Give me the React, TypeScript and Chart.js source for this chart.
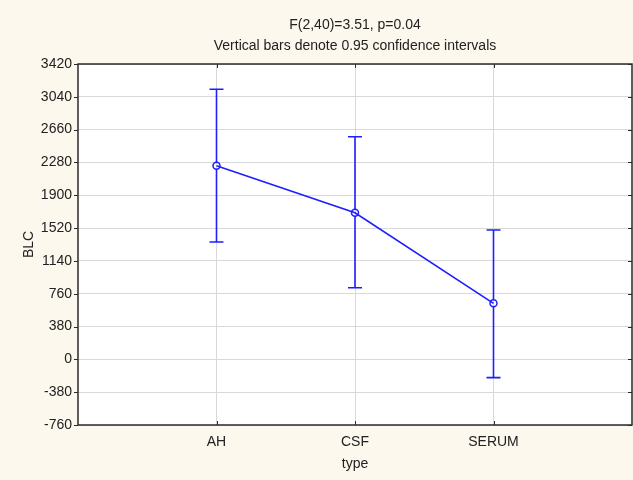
import React, { useEffect, useRef } from 'react';
import { Chart, registerables } from 'chart.js';

Chart.register(...registerables);

const categories = ['AH', 'CSF', 'SERUM'];
const means = [2242, 1698, 649];
const upper = [3127, 2578, 1498];
const lower = [1359, 830, -212];
const titleLines = ['F(2,40)=3.51, p=0.04', 'Vertical bars denote 0.95 confidence intervals'];
const yTitle = 'BLC';
const xTitle = 'type';
const yMin = -760;
const yMax = 3420;
const yStep = 380;

const FONT = "'Liberation Sans', Arial, sans-serif";
const FS = 14;
const BLUE = 'rgb(30,30,255)';
const CREAM = '#fcf8ee';
const GRID = '#d9d9d9';
const DARK = '#2a2a2a';

const decorPlugin = {
  id: 'decor',
  beforeDraw(chart: any) {
    const { ctx, chartArea: a, width, height } = chart;
    ctx.save();
    ctx.fillStyle = CREAM;
    ctx.fillRect(0, 0, width, height);
    ctx.fillStyle = '#ffffff';
    ctx.fillRect(a.left, a.top, a.right - a.left, a.bottom - a.top);
    ctx.restore();
  },
  afterDatasetsDraw(chart: any) {
    const { ctx } = chart;
    const xs = chart.scales.x;
    const ys = chart.scales.y;
    ctx.save();
    ctx.strokeStyle = BLUE;
    ctx.lineWidth = 1.6;
    categories.forEach((_, i) => {
      const x = xs.getPixelForValue(i + 1);
      const yu = ys.getPixelForValue(upper[i]);
      const yl = ys.getPixelForValue(lower[i]);
      const ym = ys.getPixelForValue(means[i]);
      ctx.beginPath();
      ctx.moveTo(x, yu);
      ctx.lineTo(x, ym - 3.5);
      ctx.moveTo(x, ym + 3.5);
      ctx.lineTo(x, yl);
      ctx.moveTo(x - 7, yu);
      ctx.lineTo(x + 7, yu);
      ctx.moveTo(x - 7, yl);
      ctx.lineTo(x + 7, yl);
      ctx.stroke();
    });
    ctx.restore();
  },
  afterDraw(chart: any) {
    const { ctx, chartArea: a } = chart;
    const xs = chart.scales.x;
    const ys = chart.scales.y;
    ctx.save();
    ctx.strokeStyle = DARK;
    ctx.lineWidth = 1.5;
    ctx.strokeRect(a.left, a.top, a.right - a.left, a.bottom - a.top);
    ctx.lineWidth = 1;
    ctx.beginPath();
    ys.ticks.forEach((t: any) => {
      const y = Math.round(ys.getPixelForValue(t.value)) + 0.5;
      ctx.moveTo(a.left - 4, y);
      ctx.lineTo(a.left, y);
      ctx.moveTo(a.right, y);
      ctx.lineTo(a.right - 4, y);
    });
    categories.forEach((_, i) => {
      const x = Math.round(xs.getPixelForValue(i + 1)) + 0.5;
      ctx.moveTo(x, a.top);
      ctx.lineTo(x, a.top + 4);
      ctx.moveTo(x, a.bottom);
      ctx.lineTo(x, a.bottom - 4);
    });
    ctx.stroke();
    ctx.fillStyle = '#222';
    ctx.font = `${FS}px ${FONT}`;
    ctx.textAlign = 'center';
    ctx.textBaseline = 'middle';
    const cx = (a.left + a.right) / 2;
    ctx.fillText(titleLines[0], cx, 25);
    ctx.fillText(titleLines[1], cx, 46);
    ctx.restore();
  },
};

export default function App() {
  const ref = useRef<HTMLCanvasElement | null>(null);
  useEffect(() => {
    if (!ref.current) return;
    const chart = new Chart(ref.current, {
      type: 'line',
      data: {
        datasets: [
          {
            data: means.map((m, i) => ({ x: i + 1, y: m })),
            borderColor: BLUE,
            borderWidth: 1.6,
            backgroundColor: 'rgba(255,255,255,0)',
            pointRadius: 3.5,
            pointBorderWidth: 1.5,
            pointBorderColor: BLUE,
            pointBackgroundColor: 'rgba(255,255,255,0)',
            tension: 0,
            fill: false,
          },
        ],
      },
      options: {
        animation: false,
        responsive: false,
        devicePixelRatio: 1,
        layout: { autoPadding: false, padding: { top: 64, right: 1, left: 0, bottom: 0 } },
        plugins: {
          legend: { display: false },
          title: { display: false },
          tooltip: { enabled: false },
        },
        scales: {
          x: {
            type: 'linear',
            min: 0,
            max: 4,
            ticks: {
              stepSize: 1,
              autoSkip: false,
              maxRotation: 0,
              padding: 9,
              color: '#222',
              font: { family: FONT, size: FS },
              callback: (v: any) => categories[Number(v) - 1] ?? '',
            },
            grid: {
              color: (c: any) => (c.tick && (c.tick.value === 0 || c.tick.value === 4) ? 'rgba(0,0,0,0)' : GRID),
              drawTicks: false,
            },
            border: { display: false },
            title: {
              display: true,
              text: xTitle,
              color: '#222',
              font: { family: FONT, size: FS },
              padding: { top: 4, bottom: 7 },
            },
            afterFit: (s: any) => {
              s.height = 55;
              s.paddingLeft = 0;
              s.paddingRight = 0;
            },
          },
          y: {
            min: yMin,
            max: yMax,
            ticks: {
              stepSize: yStep,
              padding: 6,
              color: '#222',
              font: { family: FONT, size: FS },
              callback: (v: any) => String(v),
            },
            grid: { color: GRID, drawTicks: false },
            border: { display: false },
            title: {
              display: true,
              text: yTitle,
              color: '#222',
              font: { family: FONT, size: FS },
              padding: { top: 21, bottom: 0 },
            },
            afterFit: (s: any) => {
              s.width = 78;
              s.paddingTop = 0;
              s.paddingBottom = 0;
            },
          },
        },
      },
      plugins: [decorPlugin],
    } as any);
    return () => chart.destroy();
  }, []);
  return (
    <div style={{ position: 'fixed', left: 0, top: 0, width: 633, height: 480 }}>
      <canvas ref={ref} width={633} height={480} />
    </div>
  );
}
